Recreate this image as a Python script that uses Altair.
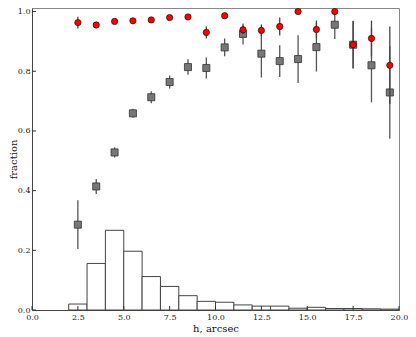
import altair as alt
import pandas as pd

# histogram of h (bins of 1 arcsec)
bin_left = [2, 3, 4, 5, 6, 7, 8, 9, 10, 11, 12, 13, 14, 15, 16, 17, 18, 19]
bin_right = [3, 4, 5, 6, 7, 8, 9, 10, 11, 12, 13, 14, 15, 16, 17, 18, 19, 20]
hist_frac = [0.020, 0.156, 0.267, 0.197, 0.112, 0.079, 0.048, 0.029, 0.026, 0.017,
             0.013, 0.013, 0.006, 0.009, 0.005, 0.005, 0.004, 0.003]

# points at bin centres
h_centers = [2.5, 3.5, 4.5, 5.5, 6.5, 7.5, 8.5, 9.5, 10.5, 11.5,
             12.5, 13.5, 14.5, 15.5, 16.5, 17.5, 18.5, 19.5]
red_frac = [0.963, 0.955, 0.967, 0.969, 0.972, 0.980, 0.982, 0.930, 0.986, 0.939,
            0.937, 0.950, 1.000, 0.940, 1.000, 0.889, 0.910, 0.820]
red_err = [0.020, 0.004, 0.005, 0.004, 0.004, 0.004, 0.004, 0.020, 0.005, 0.015,
           0.020, 0.030, 0.000, 0.030, 0.000, 0.080, 0.060, 0.130]
gray_frac = [0.286, 0.414, 0.528, 0.659, 0.713, 0.764, 0.814, 0.811, 0.880, 0.925,
             0.859, 0.834, 0.841, 0.881, 0.956, 0.889, 0.820, 0.729]
gray_err = [0.082, 0.025, 0.017, 0.015, 0.020, 0.022, 0.026, 0.035, 0.030, 0.035,
            0.080, 0.053, 0.080, 0.082, 0.048, 0.079, 0.124, 0.155]

x_ticks = [0.0, 2.5, 5.0, 7.5, 10.0, 12.5, 15.0, 17.5, 20.0]
y_ticks = [0.0, 0.2, 0.4, 0.6, 0.8, 1.0]

W, H = 367, 302
FONT = "DejaVu Serif"

hist_df = pd.DataFrame({"left": bin_left, "right": bin_right, "frac": hist_frac,
                        "base": [0.0] * len(hist_frac)})
pts_df = pd.DataFrame({
    "h": h_centers,
    "red": red_frac,
    "red_lo": [v - e for v, e in zip(red_frac, red_err)],
    "red_hi": [v + e for v, e in zip(red_frac, red_err)],
    "gray": gray_frac,
    "gray_lo": [v - e for v, e in zip(gray_frac, gray_err)],
    "gray_hi": [v + e for v, e in zip(gray_frac, gray_err)],
})
xt_df = pd.DataFrame({"v": x_ticks})
yt_df = pd.DataFrame({"v": y_ticks})

xs = alt.Scale(domain=[0, 20], nice=False, zero=False)
ys = alt.Scale(domain=[0, 1.012], nice=False, zero=False)

x_axis = alt.Axis(values=x_ticks, format=".1f", tickSize=0, grid=False,
                  labelFlush=False, labelOverlap=False,
                  title="h, arcsec", labelPadding=3, titlePadding=2)
y_axis = alt.Axis(values=y_ticks, format=".1f", tickSize=0, grid=False,
                  labelFlush=False, labelOverlap=False,
                  title="fraction", labelPadding=2, titleX=-14)

hist = alt.Chart(hist_df).mark_rect(fill="white", stroke="#444", strokeWidth=1).encode(
    x=alt.X("left:Q", scale=xs, axis=x_axis),
    x2="right:Q",
    y=alt.Y("frac:Q", scale=ys, axis=y_axis),
    y2="base:Q",
)

gray_bars = alt.Chart(pts_df).mark_rule(color="#555", strokeWidth=1.3).encode(
    x=alt.X("h:Q", scale=xs), y=alt.Y("gray_lo:Q", scale=ys), y2="gray_hi:Q")
gray_pts = alt.Chart(pts_df).mark_point(shape="square", filled=True, fill="#777777",
                                        stroke="#333", strokeWidth=0.8, size=50,
                                        opacity=1).encode(
    x=alt.X("h:Q", scale=xs), y=alt.Y("gray:Q", scale=ys))

red_bars = alt.Chart(pts_df).mark_rule(color="#444", strokeWidth=1.3).encode(
    x=alt.X("h:Q", scale=xs), y=alt.Y("red_lo:Q", scale=ys), y2="red_hi:Q")
red_pts = alt.Chart(pts_df).mark_point(shape="circle", filled=True, fill="red",
                                       stroke="black", strokeWidth=0.6, size=40,
                                       opacity=1).encode(
    x=alt.X("h:Q", scale=xs), y=alt.Y("red:Q", scale=ys))

yticks = alt.Chart(yt_df).mark_rule(color="#333", strokeWidth=1).encode(
    y=alt.Y("v:Q", scale=ys), x=alt.value(0), x2=alt.value(4))
xticks = alt.Chart(xt_df).mark_rule(color="#333", strokeWidth=1).encode(
    x=alt.X("v:Q", scale=xs), y=alt.value(H), y2=alt.value(H - 4))

chart = alt.layer(hist, gray_bars, gray_pts, red_bars, red_pts, yticks, xticks).properties(
    width=W, height=H,
    autosize=alt.AutoSizeParams(type="none"),
    padding={"left": 24, "top": 0, "right": 9, "bottom": 24},
).configure_view(
    stroke="#888", strokeWidth=1
).configure_axis(
    labelFont=FONT, labelFontSize=8, labelColor="#222",
    titleFont=FONT, titleFontSize=10, titleFontWeight="normal", titleColor="#111",
    domainColor="#444", domainWidth=1,
)

chart.save("out.html", embed_options={"renderer": "svg", "actions": False})
